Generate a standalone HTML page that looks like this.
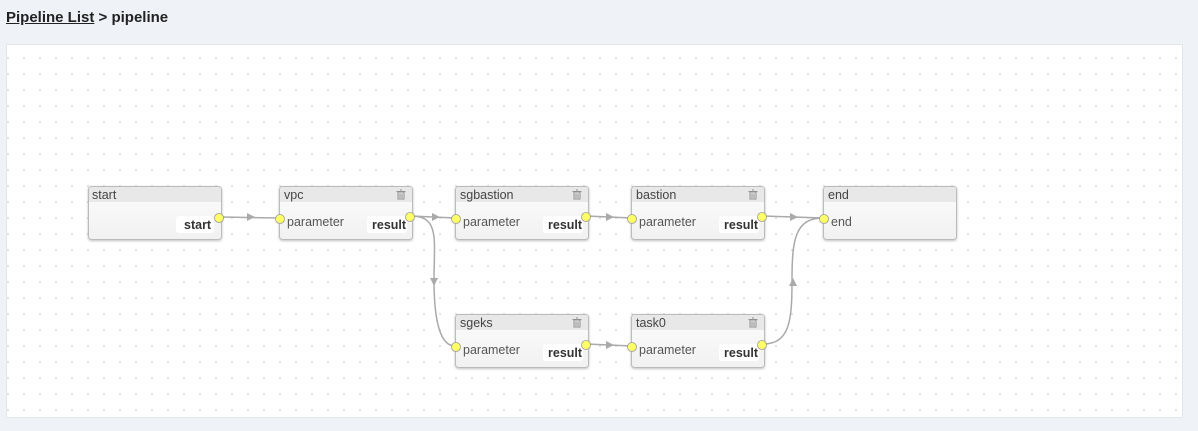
<!DOCTYPE html>
<html><head><meta charset="utf-8"><style>
body{margin:0;width:1198px;height:431px;background:#eff2f7;font-family:"Liberation Sans",sans-serif;overflow:hidden;position:relative}
.t{position:absolute;left:6px;top:9px;font-size:15px;font-weight:bold;color:#222}
.t u{text-decoration:underline}
.panel{position:absolute;left:6px;top:44px;width:1175px;height:372px;background:#fff;border:1px solid #e2e5ea;
background-image:radial-gradient(circle,#cfcfcf 0.7px,transparent 1px);background-size:16px 16px;background-position:9px 5px}
svg{position:absolute;left:0;top:0}
</style></head><body>
<div class="t"><u>Pipeline List</u> &gt; pipeline</div>
<div class="panel"></div>
<svg width="1198" height="431" font-family="Liberation Sans, sans-serif">
<defs>
<linearGradient id="g" x1="0" y1="0" x2="0" y2="1"><stop offset="0" stop-color="#fcfcfc"/><stop offset="1" stop-color="#f1f1f1"/></linearGradient>
<filter id="s" x="-10%" y="-20%" width="120%" height="150%"><feDropShadow dx="0" dy="1" stdDeviation="1.2" flood-color="#000" flood-opacity="0.25"/></filter>
<g id="trash" fill="none" stroke="#888" stroke-width="0.9"><rect x="-3" y="-3" width="6" height="7"/><line x1="-4.5" y1="-3.5" x2="4.5" y2="-3.5"/><line x1="-1" y1="-5" x2="1" y2="-5"/><line x1="-1" y1="-1.5" x2="-1" y2="3"/><line x1="1" y1="-1.5" x2="1" y2="3"/></g>
</defs>
<g stroke="#aaa" stroke-width="1.5" fill="none">
<path d="M221 217 L279 218"/>
<path d="M411 216 L455 218"/>
<path d="M587 216 L631 218"/>
<path d="M763 216 L823 218"/>
<path d="M411 216 C440 216 434 240 434 280 C434 320 440 346 455 346"/>
<path d="M587 344 L631 346"/>
<path d="M763 344 C790 344 792 320 792 280 C792 240 795 218 823 218"/>
</g>
<g fill="#aaa">
<path d="M247 213 L255 217 L247 221Z"/>
<path d="M432 213 L440 217 L432 221Z"/>
<path d="M606 213 L614 217 L606 221Z"/>
<path d="M790 213 L798 217 L790 221Z"/>
<path d="M606 341 L614 345 L606 349Z"/>
<path d="M430 278 L434 286 L438 278Z"/>
<path d="M789 286 L793 278 L797 286Z"/>
</g>
<g font-size="12.5" fill="#333">
<g filter="url(#s)"><rect x="88.5" y="186.5" width="133" height="53" rx="3" fill="url(#g)" stroke="#bbb"/></g>
<path d="M89 202V190a3 3 0 0 1 3-3h126a3 3 0 0 1 3 3v12z" fill="#e8e8e8"/>
<text x="92" y="199" fill="#444">start</text>
<rect x="176" y="216" width="38" height="17" rx="3" fill="#fff"/>
<text x="184" y="229" font-weight="bold">start</text>

<g filter="url(#s)"><rect x="279.5" y="186.5" width="133" height="53" rx="3" fill="url(#g)" stroke="#bbb"/></g>
<path d="M280 202V190a3 3 0 0 1 3-3h126a3 3 0 0 1 3 3v12z" fill="#e8e8e8"/>
<text x="284" y="199" fill="#444">vpc</text><use href="#trash" x="401" y="195"/>
<text x="287" y="226" fill="#555">parameter</text>
<rect x="367" y="216" width="40" height="17" rx="3" fill="#fff"/>
<text x="372" y="229" font-weight="bold">result</text>

<g filter="url(#s)"><rect x="455.5" y="186.5" width="133" height="53" rx="3" fill="url(#g)" stroke="#bbb"/></g>
<path d="M456 202V190a3 3 0 0 1 3-3h126a3 3 0 0 1 3 3v12z" fill="#e8e8e8"/>
<text x="460" y="199" fill="#444">sgbastion</text><use href="#trash" x="577" y="195"/>
<text x="463" y="226" fill="#555">parameter</text>
<rect x="543" y="216" width="40" height="17" rx="3" fill="#fff"/>
<text x="548" y="229" font-weight="bold">result</text>

<g filter="url(#s)"><rect x="631.5" y="186.5" width="133" height="53" rx="3" fill="url(#g)" stroke="#bbb"/></g>
<path d="M632 202V190a3 3 0 0 1 3-3h126a3 3 0 0 1 3 3v12z" fill="#e8e8e8"/>
<text x="636" y="199" fill="#444">bastion</text><use href="#trash" x="753" y="195"/>
<text x="639" y="226" fill="#555">parameter</text>
<rect x="719" y="216" width="40" height="17" rx="3" fill="#fff"/>
<text x="724" y="229" font-weight="bold">result</text>

<g filter="url(#s)"><rect x="823.5" y="186.5" width="133" height="53" rx="3" fill="url(#g)" stroke="#bbb"/></g>
<path d="M824 202V190a3 3 0 0 1 3-3h126a3 3 0 0 1 3 3v12z" fill="#e8e8e8"/>
<text x="828" y="199" fill="#444">end</text>
<text x="831" y="226" fill="#555">end</text>

<g filter="url(#s)"><rect x="455.5" y="314.5" width="133" height="53" rx="3" fill="url(#g)" stroke="#bbb"/></g>
<path d="M456 330V318a3 3 0 0 1 3-3h126a3 3 0 0 1 3 3v12z" fill="#e8e8e8"/>
<text x="460" y="327" fill="#444">sgeks</text><use href="#trash" x="577" y="323"/>
<text x="463" y="354" fill="#555">parameter</text>
<rect x="543" y="344" width="40" height="17" rx="3" fill="#fff"/>
<text x="548" y="357" font-weight="bold">result</text>

<g filter="url(#s)"><rect x="631.5" y="314.5" width="133" height="53" rx="3" fill="url(#g)" stroke="#bbb"/></g>
<path d="M632 330V318a3 3 0 0 1 3-3h126a3 3 0 0 1 3 3v12z" fill="#e8e8e8"/>
<text x="636" y="327" fill="#444">task0</text><use href="#trash" x="753" y="323"/>
<text x="639" y="354" fill="#555">parameter</text>
<rect x="719" y="344" width="40" height="17" rx="3" fill="#fff"/>
<text x="724" y="357" font-weight="bold">result</text>
</g>
<g fill="#ffff66" stroke="#999" stroke-width="0.8">
<circle cx="219" cy="218" r="4.5"/>
<circle cx="280" cy="219" r="4.5"/><circle cx="410" cy="217" r="4.5"/>
<circle cx="456" cy="219" r="4.5"/><circle cx="586" cy="217" r="4.5"/>
<circle cx="632" cy="219" r="4.5"/><circle cx="762" cy="217" r="4.5"/>
<circle cx="824" cy="219" r="4.5"/>
<circle cx="456" cy="347" r="4.5"/><circle cx="586" cy="345" r="4.5"/>
<circle cx="632" cy="347" r="4.5"/><circle cx="762" cy="345" r="4.5"/>
</g>
</svg>
</body></html>
